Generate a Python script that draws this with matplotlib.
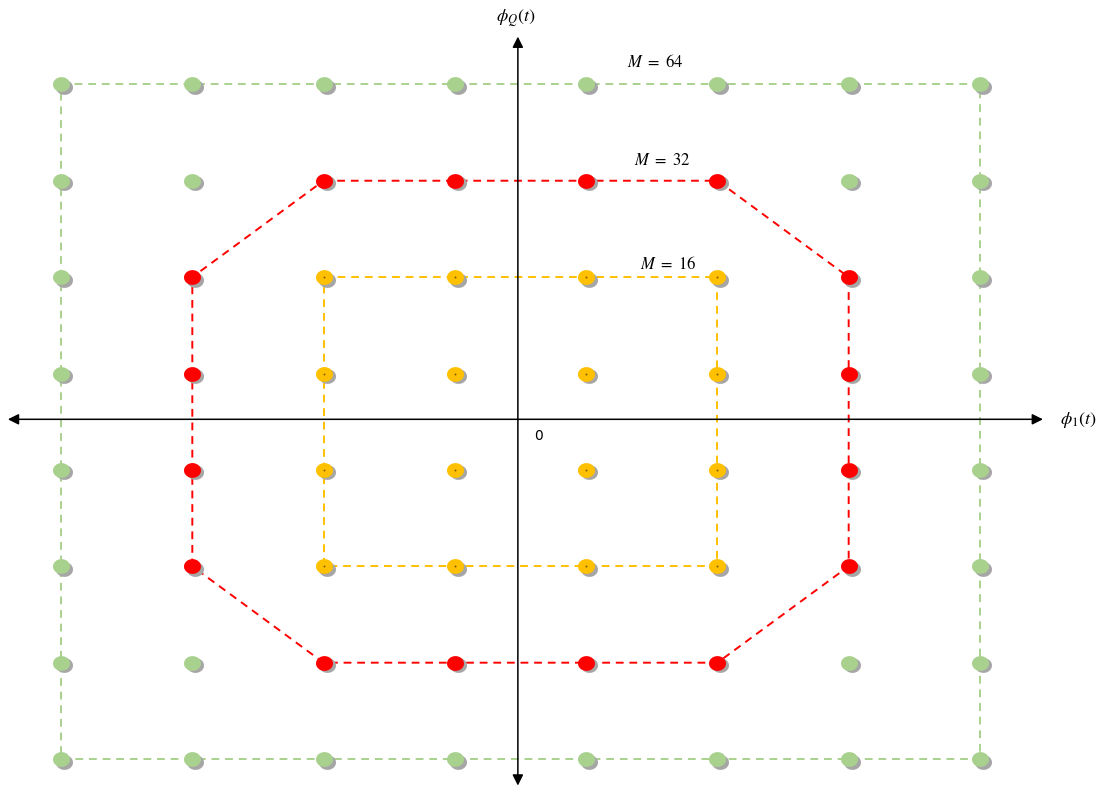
import numpy as np
import matplotlib.pyplot as plt
from matplotlib.path import Path
from matplotlib.transforms import offset_copy

plt.rcParams['mathtext.fontset'] = 'stix'

# QAM amplitude levels on each axis
levels = [-7, -5, -3, -1, 1, 3, 5, 7]

# 16-QAM: inner 4x4 square
inner_levels = [-3, -1, 1, 3]
pts16 = [(i, q) for i in inner_levels for q in inner_levels]

# 32-QAM cross: extra ring points beyond the 16-QAM square
pts32_extra = ([(i, 5) for i in inner_levels] + [(i, -5) for i in inner_levels]
               + [(5, q) for q in inner_levels] + [(-5, q) for q in inner_levels])

# 64-QAM: everything else on the 8x8 grid
taken = set(pts16) | set(pts32_extra)
pts64_extra = [(i, q) for i in levels for q in levels if (i, q) not in taken]

# boundary outlines
box64 = [(-7, 7), (7, 7), (7, -7), (-7, -7), (-7, 7)]
oct32 = [(-3, 5), (3, 5), (5, 3), (5, -3), (3, -5), (-3, -5), (-5, -3), (-5, 3), (-3, 5)]
box16 = [(-3, 3), (3, 3), (3, -3), (-3, -3), (-3, 3)]

green = '#A9D18E'
red = '#FF0000'
orange = '#FFC000'
shadow = '#A6A6A6'

fig = plt.figure(figsize=(11.04, 7.88), dpi=100)
ax = fig.add_axes([0, 0, 1, 1])
ax.set_xlim(-7.93, 8.89)
ax.set_ylim(-7.6, 8.75)
ax.axis('off')

# outlines
for poly, col in [(box64, green), (oct32, red), (box16, orange)]:
    xs, ys = zip(*poly)
    ax.plot(xs, ys, color=col, lw=1.4, ls=(0, (4, 3)), zorder=2)

# axes arrows
ax.annotate('', xy=(7.96, 0.05), xytext=(-7.81, 0.05),
            arrowprops=dict(arrowstyle='<|-|>', color='black', lw=1.1,
                            mutation_scale=16, shrinkA=0, shrinkB=0), zorder=3)
ax.annotate('', xy=(-0.04, 7.99), xytext=(-0.04, -7.55),
            arrowprops=dict(arrowstyle='<|-|>', color='black', lw=1.1,
                            mutation_scale=16, shrinkA=0, shrinkB=0), zorder=3)

# slightly wide elliptical marker
t = np.linspace(0, 2 * np.pi, 60)
ell = Path(np.c_[1.15 * np.cos(t), np.sin(t)], closed=True)
shadow_tr = offset_copy(ax.transData, fig=fig, x=3, y=-2.5, units='dots')

for pts, col in [(pts64_extra, green), (pts32_extra, red), (pts16, orange)]:
    xs, ys = zip(*pts)
    ax.scatter(xs, ys, s=150, marker=ell, color=shadow, lw=0,
               transform=shadow_tr, zorder=4)
    ax.scatter(xs, ys, s=150, marker=ell, color=col, lw=0, zorder=5)

xs, ys = zip(*pts16)
ax.scatter(xs, ys, s=2, color='#7F6000', lw=0, zorder=6)

# labels
ax.text(-0.08, 8.37, r'$\phi_Q(t)$', fontsize=13, ha='center', va='center')
ax.text(8.5, 0.03, r'$\phi_1(t)$', fontsize=13, ha='center', va='center')
ax.text(0.28, -0.3, '0', fontsize=10, ha='center', va='center')
ax.text(2.05, 7.47, r'$M\ =\ 64$', fontsize=12, ha='center', va='center')
ax.text(2.16, 5.42, r'$M\ =\ 32$', fontsize=12, ha='center', va='center')
ax.text(2.25, 3.27, r'$M\ =\ 16$', fontsize=12, ha='center', va='center')

fig.savefig('out.png', dpi=100)
